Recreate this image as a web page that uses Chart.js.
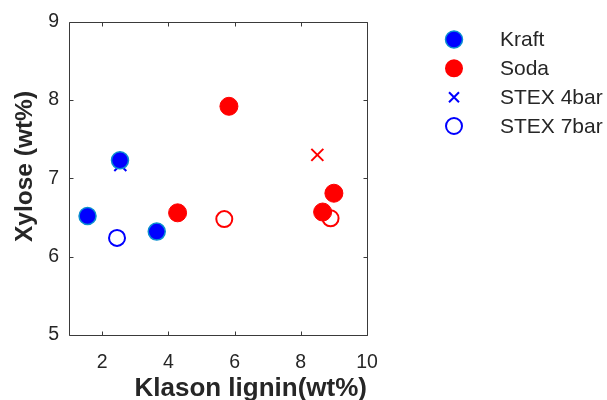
<!DOCTYPE html>
<html>
<head>
<meta charset="utf-8">
<script src="https://cdn.jsdelivr.net/npm/chart.js@4.4.1/dist/chart.umd.min.js"></script>
<style>
  html, body { margin: 0; padding: 0; background: #fff; }
  #wrap { width: 607px; height: 400px; position: relative; }
</style>
</head>
<body>
<div id="wrap"><canvas id="c" width="607" height="400"></canvas></div>
<script>
// ---- data ----
const kraftX = [1.56, 3.65, 2.54];
const kraftY = [6.52, 6.32, 7.23];
const sodaX = [5.83, 4.28, 8.66, 9.0];
const sodaY = [7.92, 6.56, 6.57, 6.81];
const stex4X = [2.55, 8.5];
const stex4Y = [7.17, 7.30];
const stex4Colors = ['#0000ff', '#ff0000'];
const stex7X = [2.45, 5.69, 8.9];
const stex7Y = [6.24, 6.48, 6.49];
const stex7Colors = ['#0000ff', '#ff0000', '#ff0000'];
const xTicks = [2, 4, 6, 8, 10];
const yTicks = [5, 6, 7, 8, 9];
const legendLabels = ['Kraft', 'Soda', 'STEX 4bar', 'STEX 7bar'];
const xTitle = 'Klason lignin(wt%)';
const yTitle = 'Xylose (wt%)';

const pts = (xs, ys) => xs.map((x, i) => ({ x: x, y: ys[i] }));
const FONT = "'Liberation Sans', Arial, Helvetica, sans-serif";
const TXT = '#262626';

const boxPlugin = {
  id: 'boxPlugin',
  afterDraw(chart) {
    const { ctx, chartArea: a, scales } = chart;
    ctx.save();
    ctx.strokeStyle = '#3a3a3a';
    ctx.lineWidth = 1;
    const L = Math.round(a.left) + 0.5, R = Math.round(a.right) + 0.5;
    const T = Math.round(a.top) + 0.5, B = Math.round(a.bottom) + 0.5;
    ctx.beginPath();
    ctx.rect(L, T, R - L, B - T);
    ctx.stroke();
    const tl = 4;
    ctx.beginPath();
    xTicks.forEach(v => {
      const px = Math.round(scales.x.getPixelForValue(v)) + 0.5;
      ctx.moveTo(px, B); ctx.lineTo(px, B - tl);
      ctx.moveTo(px, T); ctx.lineTo(px, T + tl);
    });
    yTicks.forEach(v => {
      const py = Math.round(scales.y.getPixelForValue(v)) + 0.5;
      ctx.moveTo(L, py); ctx.lineTo(L + tl, py);
      ctx.moveTo(R, py); ctx.lineTo(R - tl, py);
    });
    ctx.stroke();

    // y axis title
    ctx.save();
    ctx.translate(32, 166.5);
    ctx.rotate(-Math.PI / 2);
    ctx.font = 'bold 24.5px ' + FONT;
    ctx.fillStyle = TXT;
    ctx.textAlign = 'center';
    ctx.textBaseline = 'alphabetic';
    ctx.fillText(yTitle, 0, 0);
    ctx.restore();

    // legend
    const lx = 454, tx = 500;
    const rows = [39.5, 68.3, 97.3, 126];
    ctx.font = '21px ' + FONT;
    ctx.fillStyle = TXT;
    ctx.textBaseline = 'middle';
    ctx.textAlign = 'left';
    legendLabels.forEach((lab, i) => {
      const y = rows[i];
      ctx.save();
      if (i === 0) {
        ctx.beginPath(); ctx.arc(lx, y, 8.5, 0, Math.PI * 2);
        ctx.fillStyle = '#0000ff'; ctx.fill();
        ctx.lineWidth = 1.5; ctx.strokeStyle = '#0a8fd0'; ctx.stroke();
      } else if (i === 1) {
        ctx.beginPath(); ctx.arc(lx, y, 9, 0, Math.PI * 2);
        ctx.fillStyle = '#ff0000'; ctx.fill();
      } else if (i === 2) {
        ctx.beginPath();
        ctx.moveTo(lx - 5, y - 5); ctx.lineTo(lx + 5, y + 5);
        ctx.moveTo(lx + 5, y - 5); ctx.lineTo(lx - 5, y + 5);
        ctx.lineWidth = 2; ctx.strokeStyle = '#0000ff'; ctx.stroke();
      } else {
        ctx.beginPath(); ctx.arc(lx, y, 8, 0, Math.PI * 2);
        ctx.lineWidth = 2; ctx.strokeStyle = '#0000ff'; ctx.stroke();
      }
      ctx.restore();
      ctx.fillText(lab, tx, y + 1);
    });
    ctx.restore();
  }
};

new Chart(document.getElementById('c'), {
  type: 'scatter',
  data: {
    datasets: [
      {
        label: legendLabels[2], data: pts(stex4X, stex4Y), order: 4,
        pointStyle: 'crossRot', pointRadius: 8.5, pointHoverRadius: 8.5,
        borderColor: stex4Colors, backgroundColor: stex4Colors, pointBorderWidth: 2
      },
      {
        label: legendLabels[0], data: pts(kraftX, kraftY), order: 3,
        pointStyle: 'circle', pointRadius: 8.5, pointHoverRadius: 8.5,
        backgroundColor: '#0000ff', borderColor: '#0a8fd0', pointBorderWidth: 1.5
      },
      {
        label: legendLabels[1], data: pts(sodaX, sodaY), order: 2,
        pointStyle: 'circle', pointRadius: 9, pointHoverRadius: 9,
        backgroundColor: '#ff0000', borderColor: '#ff0000', pointBorderWidth: 1
      },
      {
        label: legendLabels[3], data: pts(stex7X, stex7Y), order: 1,
        pointStyle: 'circle', pointRadius: 8, pointHoverRadius: 8,
        backgroundColor: 'rgba(0,0,0,0)', borderColor: stex7Colors, pointBorderWidth: 2
      }
    ]
  },
  options: {
    responsive: false,
    animation: false,
    events: [],
    layout: { padding: { top: 21, right: 240, left: 0, bottom: 0 } },
    plugins: { legend: { display: false }, tooltip: { enabled: false } },
    scales: {
      x: {
        type: 'linear', min: 1, max: 10,
        afterBuildTicks: s => { s.ticks = xTicks.map(v => ({ value: v })); },
        afterFit: s => { s.height = 65; },
        grid: { display: false, drawTicks: false },
        border: { display: false },
        ticks: { color: TXT, font: { family: FONT, size: 19.5 }, padding: 16, maxRotation: 0 },
        title: { display: true, text: xTitle, align: 'end', color: TXT,
                 font: { family: FONT, size: 26, weight: 'bold', lineHeight: 0.88 }, padding: { top: 0, bottom: 0 } }
      },
      y: {
        type: 'linear', min: 5, max: 9,
        afterBuildTicks: s => { s.ticks = yTicks.map(v => ({ value: v })); },
        afterFit: s => { s.width = 69; },
        grid: { display: false, drawTicks: false },
        border: { display: false },
        ticks: { color: TXT, font: { family: FONT, size: 19.5 }, padding: 10 },
        title: { display: false }
      }
    }
  },
  plugins: [boxPlugin]
});
</script>
</body>
</html>
